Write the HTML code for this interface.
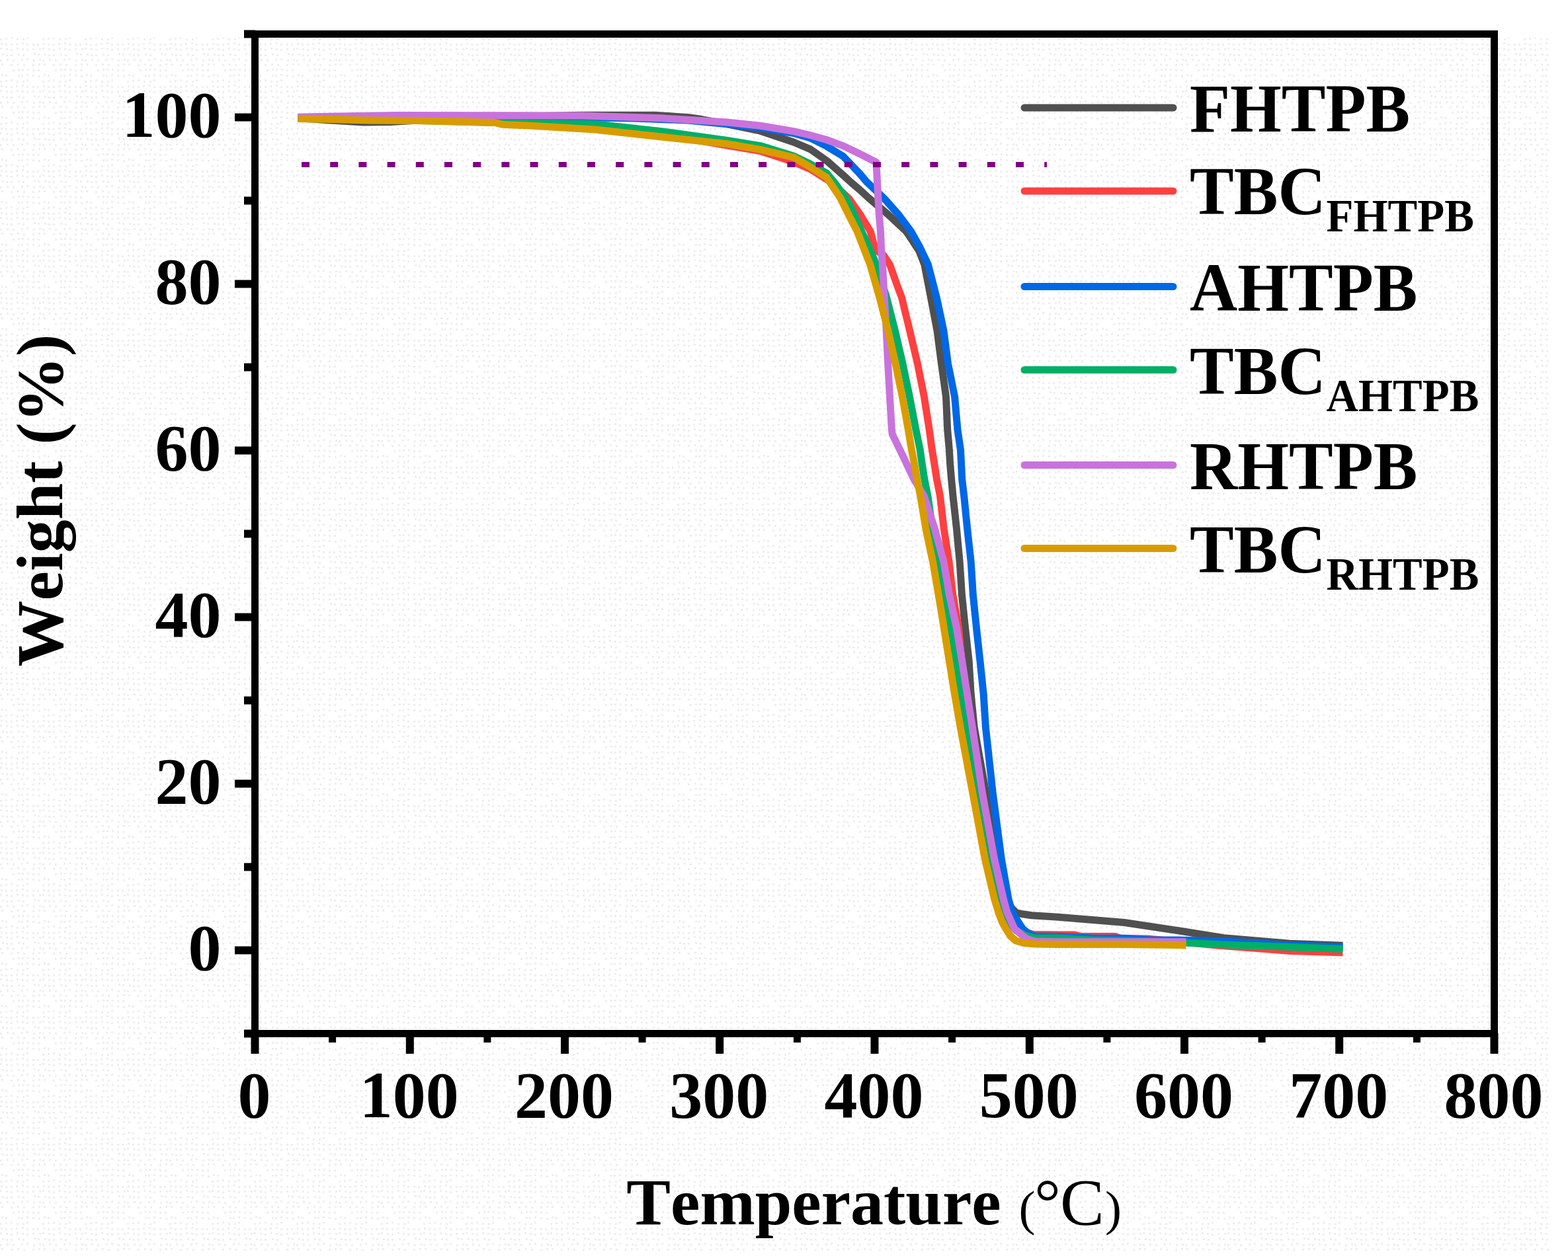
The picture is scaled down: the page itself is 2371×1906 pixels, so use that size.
<!DOCTYPE html>
<html><head><meta charset="utf-8"><title>TGA curves</title>
<style>html,body{margin:0;padding:0;background:#fff;}svg{display:block;}text{font-kerning:none;}</style>
</head><body>
<svg width="2371" height="1906" viewBox="0 0 2371 1906">
<defs><pattern id="dots" width="64" height="64" patternUnits="userSpaceOnUse"><g fill="#eeeeee"><rect x="1" y="1" width="3" height="3"/><rect x="8" y="2" width="3" height="3"/><rect x="16" y="2" width="3" height="3"/><rect x="24" y="1" width="3" height="3"/><rect x="33" y="0" width="3" height="3"/><rect x="40" y="2" width="3" height="3"/><rect x="49" y="2" width="3" height="3"/><rect x="56" y="2" width="3" height="3"/><rect x="0" y="8" width="3" height="3"/><rect x="9" y="9" width="3" height="3"/><rect x="16" y="10" width="3" height="3"/><rect x="25" y="8" width="3" height="3"/><rect x="33" y="9" width="3" height="3"/><rect x="40" y="10" width="3" height="3"/><rect x="49" y="9" width="3" height="3"/><rect x="59" y="9" width="3" height="3"/><rect x="3" y="17" width="3" height="3"/><rect x="9" y="18" width="3" height="3"/><rect x="16" y="18" width="3" height="3"/><rect x="27" y="17" width="3" height="3"/><rect x="34" y="18" width="3" height="3"/><rect x="51" y="16" width="3" height="3"/><rect x="57" y="17" width="3" height="3"/><rect x="0" y="26" width="3" height="3"/><rect x="10" y="25" width="3" height="3"/><rect x="19" y="26" width="3" height="3"/><rect x="32" y="25" width="3" height="3"/><rect x="40" y="24" width="3" height="3"/><rect x="50" y="26" width="3" height="3"/><rect x="59" y="25" width="3" height="3"/><rect x="2" y="32" width="3" height="3"/><rect x="16" y="33" width="3" height="3"/><rect x="26" y="32" width="3" height="3"/><rect x="35" y="33" width="3" height="3"/><rect x="49" y="33" width="3" height="3"/><rect x="58" y="32" width="3" height="3"/><rect x="19" y="41" width="3" height="3"/><rect x="27" y="40" width="3" height="3"/><rect x="33" y="40" width="3" height="3"/><rect x="41" y="40" width="3" height="3"/><rect x="49" y="41" width="3" height="3"/><rect x="57" y="41" width="3" height="3"/><rect x="2" y="48" width="3" height="3"/><rect x="8" y="49" width="3" height="3"/><rect x="27" y="49" width="3" height="3"/><rect x="32" y="49" width="3" height="3"/><rect x="40" y="48" width="3" height="3"/><rect x="49" y="49" width="3" height="3"/><rect x="58" y="50" width="3" height="3"/><rect x="0" y="58" width="3" height="3"/><rect x="8" y="57" width="3" height="3"/><rect x="16" y="56" width="3" height="3"/><rect x="25" y="58" width="3" height="3"/><rect x="34" y="58" width="3" height="3"/><rect x="40" y="56" width="3" height="3"/></g></pattern></defs>
<rect x="0" y="0" width="2371" height="1906" fill="#ffffff"/>
<rect x="0" y="57" width="2342" height="1836" fill="url(#dots)"/>
<polyline points="456.0,179.0 500.0,182.0 550.0,185.0 590.0,184.5 650.0,181.0 750.0,177.0 880.0,174.3 990.0,174.3 1010.0,175.5 1040.0,177.5 1060.0,180.3 1100.0,187.8 1150.0,198.2 1200.0,215.0 1225.0,225.6 1250.0,243.0 1275.0,265.0 1287.0,276.0 1300.0,287.0 1313.0,299.0 1343.5,325.0 1370.2,350.0 1381.0,366.0 1390.0,380.0 1397.8,400.0 1407.5,450.0 1417.0,500.0 1423.5,550.0 1430.5,600.0 1432.7,650.0 1435.4,680.0 1436.5,700.0 1438.6,725.0 1441.0,750.0 1446.5,800.0 1451.2,850.0 1454.5,900.0 1459.6,950.0 1465.2,1000.0 1468.2,1050.0 1473.2,1100.0 1482.0,1150.0 1491.0,1200.0 1500.0,1250.0 1508.0,1300.0 1521.0,1360.0 1530.0,1374.0 1537.0,1381.0 1545.0,1382.5 1560.0,1384.8 1600.0,1387.2 1700.0,1395.5 1780.0,1407.5 1850.0,1418.7 1950.0,1427.3 2025.0,1430.0" fill="none" stroke="#505050" stroke-width="11" stroke-linejoin="round" stroke-linecap="square"/>
<polyline points="456.0,179.0 600.0,181.0 792.0,185.0 838.0,187.0 900.0,191.0 1000.0,203.0 1100.0,220.1 1150.0,228.5 1200.0,245.0 1225.0,255.7 1256.0,275.0 1283.5,300.0 1301.0,325.0 1316.2,350.0 1322.0,372.0 1327.0,380.0 1336.0,386.0 1345.4,400.0 1356.0,430.0 1363.5,450.0 1375.6,500.0 1387.4,550.0 1397.4,600.0 1405.2,650.0 1409.3,680.0 1412.6,700.0 1416.5,725.0 1421.5,750.0 1427.3,800.0 1435.1,850.0 1440.8,900.0 1449.6,950.0 1454.0,1000.0 1460.0,1050.0 1468.0,1100.0 1482.0,1200.0 1499.0,1300.0 1515.0,1360.0 1524.0,1380.0 1535.0,1398.0 1548.0,1409.0 1562.0,1413.5 1600.0,1413.9 1625.0,1414.0 1635.0,1416.5 1686.0,1416.5 1695.0,1419.5 1735.0,1420.0 1800.0,1426.0 1840.0,1430.0 1900.0,1434.5 1950.0,1438.4 2025.0,1440.8" fill="none" stroke="#FF4040" stroke-width="11" stroke-linejoin="round" stroke-linecap="square"/>
<polyline points="456.0,178.0 700.0,177.0 900.0,178.0 960.0,179.0 1040.0,182.0 1100.0,187.8 1150.0,193.4 1200.0,201.5 1225.0,208.7 1250.0,221.2 1275.0,236.5 1300.0,262.6 1310.4,275.0 1336.8,300.0 1359.0,325.0 1377.6,350.0 1391.5,375.0 1403.4,400.0 1416.3,450.0 1426.9,500.0 1433.5,550.0 1443.6,600.0 1448.0,650.0 1452.4,680.0 1453.5,700.0 1454.7,725.0 1457.7,750.0 1462.7,800.0 1468.2,850.0 1471.4,900.0 1476.5,950.0 1482.0,1000.0 1487.2,1050.0 1490.4,1100.0 1501.3,1200.0 1514.4,1300.0 1525.0,1360.0 1530.5,1380.0 1538.0,1392.0 1546.5,1405.0 1555.0,1412.0 1565.0,1416.0 1600.0,1416.5 1650.0,1419.1 1700.0,1419.3 1740.0,1422.0 1780.0,1422.0 1850.0,1423.8 1950.0,1429.8 2025.0,1432.3" fill="none" stroke="#0068E6" stroke-width="11" stroke-linejoin="round" stroke-linecap="square"/>
<polyline points="456.0,179.0 600.0,181.5 752.0,185.5 900.0,187.8 1000.0,198.6 1100.0,212.5 1150.0,220.6 1200.0,236.0 1225.0,248.0 1250.0,262.0 1261.0,275.0 1279.5,300.0 1292.0,325.0 1302.9,350.0 1314.6,375.0 1325.0,400.0 1340.6,450.0 1353.4,500.0 1365.0,550.0 1375.4,600.0 1385.0,650.0 1391.2,680.0 1394.0,700.0 1397.9,725.0 1402.9,750.0 1410.0,800.0 1419.0,850.0 1427.3,900.0 1437.0,950.0 1445.5,1000.0 1453.5,1050.0 1461.5,1100.0 1479.0,1200.0 1498.0,1300.0 1511.0,1360.0 1517.0,1380.0 1527.0,1398.0 1537.0,1408.0 1550.0,1415.0 1565.0,1419.0 1600.0,1419.1 1650.0,1422.0 1700.0,1423.0 1780.0,1425.5 1850.0,1429.0 1950.0,1432.5 2025.0,1435.4" fill="none" stroke="#00AF66" stroke-width="11" stroke-linejoin="round" stroke-linecap="square"/>
<polyline points="456.0,177.0 600.0,174.5 880.0,175.0 1000.0,178.8 1100.0,185.0 1150.0,190.3 1200.0,198.6 1225.0,204.5 1250.0,211.5 1275.0,220.6 1300.0,232.7 1325.0,245.5 1326.5,275.0 1329.3,325.0 1331.5,350.0 1332.5,375.0 1334.4,400.0 1337.3,450.0 1340.2,500.0 1342.7,550.0 1345.5,600.0 1348.4,650.0 1349.3,657.0 1360.6,680.0 1382.0,725.0 1397.1,750.0 1413.5,800.0 1427.0,850.0 1435.5,900.0 1446.5,950.0 1454.7,1000.0 1462.5,1050.0 1470.3,1100.0 1485.5,1200.0 1503.7,1300.0 1517.3,1360.0 1522.8,1380.0 1534.0,1405.0 1540.0,1410.0 1546.0,1415.0 1552.0,1420.0 1565.0,1424.0 1600.0,1424.8 1700.0,1424.8 1788.0,1424.8" fill="none" stroke="#C873DC" stroke-width="11" stroke-linejoin="round" stroke-linecap="square"/>
<polyline points="456.0,179.6 560.0,182.0 630.0,182.4 700.0,184.3 748.0,185.5 760.0,188.3 800.0,190.0 900.0,196.0 1000.0,207.0 1100.0,217.7 1150.0,226.4 1200.0,238.0 1225.0,252.6 1250.0,268.5 1271.0,300.0 1283.3,325.0 1296.2,350.0 1305.9,375.0 1315.7,400.0 1330.0,450.0 1342.8,500.0 1354.0,550.0 1364.4,600.0 1373.4,650.0 1378.4,680.0 1382.3,700.0 1386.6,725.0 1391.7,750.0 1400.0,800.0 1410.6,850.0 1419.2,900.0 1427.4,950.0 1435.5,1000.0 1443.5,1050.0 1452.2,1100.0 1470.9,1200.0 1489.5,1300.0 1503.7,1360.0 1509.8,1380.0 1515.0,1394.0 1521.0,1405.0 1528.0,1416.0 1536.0,1423.0 1548.0,1426.5 1565.0,1428.0 1600.0,1428.5 1700.0,1428.5 1780.0,1429.5 1788.0,1429.8" fill="none" stroke="#D89C00" stroke-width="11" stroke-linejoin="round" stroke-linecap="square"/>
<line x1="456" y1="249" x2="1583" y2="249" stroke="#800080" stroke-width="8" stroke-dasharray="12 31.2"/>
<rect x="385.5" y="51.5" width="1874" height="1512" fill="none" stroke="#000" stroke-width="11"/>
<line x1="369" y1="1563.5" x2="386" y2="1563.5" stroke="#000" stroke-width="12"/>
<line x1="355" y1="1437.5" x2="386" y2="1437.5" stroke="#000" stroke-width="12"/>
<line x1="369" y1="1311.5" x2="386" y2="1311.5" stroke="#000" stroke-width="12"/>
<line x1="355" y1="1185.5" x2="386" y2="1185.5" stroke="#000" stroke-width="12"/>
<line x1="369" y1="1059.5" x2="386" y2="1059.5" stroke="#000" stroke-width="12"/>
<line x1="355" y1="933.5" x2="386" y2="933.5" stroke="#000" stroke-width="12"/>
<line x1="369" y1="807.5" x2="386" y2="807.5" stroke="#000" stroke-width="12"/>
<line x1="355" y1="681.5" x2="386" y2="681.5" stroke="#000" stroke-width="12"/>
<line x1="369" y1="555.5" x2="386" y2="555.5" stroke="#000" stroke-width="12"/>
<line x1="355" y1="429.5" x2="386" y2="429.5" stroke="#000" stroke-width="12"/>
<line x1="369" y1="303.5" x2="386" y2="303.5" stroke="#000" stroke-width="12"/>
<line x1="355" y1="177.5" x2="386" y2="177.5" stroke="#000" stroke-width="12"/>
<line x1="369" y1="51.5" x2="386" y2="51.5" stroke="#000" stroke-width="12"/>
<line x1="385.5" y1="1563" x2="385.5" y2="1594" stroke="#000" stroke-width="12"/>
<line x1="502.6" y1="1563" x2="502.6" y2="1577" stroke="#000" stroke-width="11"/>
<line x1="619.8" y1="1563" x2="619.8" y2="1594" stroke="#000" stroke-width="12"/>
<line x1="736.9" y1="1563" x2="736.9" y2="1577" stroke="#000" stroke-width="11"/>
<line x1="854.0" y1="1563" x2="854.0" y2="1594" stroke="#000" stroke-width="12"/>
<line x1="971.1" y1="1563" x2="971.1" y2="1577" stroke="#000" stroke-width="11"/>
<line x1="1088.2" y1="1563" x2="1088.2" y2="1594" stroke="#000" stroke-width="12"/>
<line x1="1205.4" y1="1563" x2="1205.4" y2="1577" stroke="#000" stroke-width="11"/>
<line x1="1322.5" y1="1563" x2="1322.5" y2="1594" stroke="#000" stroke-width="12"/>
<line x1="1439.6" y1="1563" x2="1439.6" y2="1577" stroke="#000" stroke-width="11"/>
<line x1="1556.8" y1="1563" x2="1556.8" y2="1594" stroke="#000" stroke-width="12"/>
<line x1="1673.9" y1="1563" x2="1673.9" y2="1577" stroke="#000" stroke-width="11"/>
<line x1="1791.0" y1="1563" x2="1791.0" y2="1594" stroke="#000" stroke-width="12"/>
<line x1="1908.1" y1="1563" x2="1908.1" y2="1577" stroke="#000" stroke-width="11"/>
<line x1="2025.2" y1="1563" x2="2025.2" y2="1594" stroke="#000" stroke-width="12"/>
<line x1="2142.4" y1="1563" x2="2142.4" y2="1577" stroke="#000" stroke-width="11"/>
<line x1="2259.5" y1="1563" x2="2259.5" y2="1594" stroke="#000" stroke-width="12"/>
<g font-family='"Liberation Serif", "Times New Roman", serif' font-weight="bold" font-size="100" fill="#000">
<text x="334.5" y="1467.0" text-anchor="end">0</text>
<text x="334.5" y="1215.0" text-anchor="end">20</text>
<text x="334.5" y="963.0" text-anchor="end">40</text>
<text x="334.5" y="711.0" text-anchor="end">60</text>
<text x="334.5" y="459.0" text-anchor="end">80</text>
<text x="334.5" y="207.0" text-anchor="end">100</text>
<text x="384.5" y="1690" text-anchor="middle">0</text>
<text x="618.8" y="1690" text-anchor="middle">100</text>
<text x="853.0" y="1690" text-anchor="middle">200</text>
<text x="1087.2" y="1690" text-anchor="middle">300</text>
<text x="1321.5" y="1690" text-anchor="middle">400</text>
<text x="1555.8" y="1690" text-anchor="middle">500</text>
<text x="1790.0" y="1690" text-anchor="middle">600</text>
<text x="2024.2" y="1690" text-anchor="middle">700</text>
<text x="2258.5" y="1690" text-anchor="middle">800</text>
</g>
<text x="947.3" y="1852" font-family='"Liberation Serif", "Times New Roman", serif' font-size="100" font-weight="bold" fill="#000">Temperature</text>
<g font-family='"Liberation Serif", "Times New Roman", serif' fill="#000"><text x="1540.5" y="1853" font-size="75">(</text><text x="1564" y="1852" font-size="100">°</text><text x="1603" y="1852" font-size="100">C</text><text x="1671" y="1853" font-size="75">)</text></g>
<text transform="translate(93.5,1008.5) rotate(-90)" x="0" y="0" font-family='"Liberation Serif", "Times New Roman", serif' font-weight="bold" font-size="100" fill="#000">Weight (%)</text>
<line x1="1549" y1="163" x2="1774" y2="163" stroke="#505050" stroke-width="11" stroke-linecap="round"/>
<g transform="translate(1799,198.6) scale(1,1.035)">
<text x="0" y="0" font-family='"Liberation Serif", "Times New Roman", serif' font-weight="bold" font-size="100" fill="#000">FHTPB</text>
</g>
<line x1="1549" y1="289" x2="1774" y2="289" stroke="#FF4040" stroke-width="11" stroke-linecap="round"/>
<g transform="translate(1799,324) scale(1,1.035)">
<text x="0" y="0" font-family='"Liberation Serif", "Times New Roman", serif' font-weight="bold" font-size="100" fill="#000">TBC<tspan dy="25" dx="1" font-size="67">FHTPB</tspan></text>
</g>
<line x1="1549" y1="433.5" x2="1774" y2="433.5" stroke="#0068E6" stroke-width="11" stroke-linecap="round"/>
<g transform="translate(1799,469.5) scale(1,1.035)">
<text x="0" y="0" font-family='"Liberation Serif", "Times New Roman", serif' font-weight="bold" font-size="100" fill="#000">AHTPB</text>
</g>
<line x1="1549" y1="559.5" x2="1774" y2="559.5" stroke="#00AF66" stroke-width="11" stroke-linecap="round"/>
<g transform="translate(1799,596) scale(1,1.035)">
<text x="0" y="0" font-family='"Liberation Serif", "Times New Roman", serif' font-weight="bold" font-size="100" fill="#000">TBC<tspan dy="25" dx="1" font-size="67">AHTPB</tspan></text>
</g>
<line x1="1549" y1="703.5" x2="1774" y2="703.5" stroke="#C873DC" stroke-width="11" stroke-linecap="round"/>
<g transform="translate(1799,739.5) scale(1,1.035)">
<text x="0" y="0" font-family='"Liberation Serif", "Times New Roman", serif' font-weight="bold" font-size="100" fill="#000">RHTPB</text>
</g>
<line x1="1549" y1="829.5" x2="1774" y2="829.5" stroke="#D89C00" stroke-width="11" stroke-linecap="round"/>
<g transform="translate(1799,866) scale(1,1.035)">
<text x="0" y="0" font-family='"Liberation Serif", "Times New Roman", serif' font-weight="bold" font-size="100" fill="#000">TBC<tspan dy="25" dx="1" font-size="67">RHTPB</tspan></text>
</g>
</svg>
</body></html>
